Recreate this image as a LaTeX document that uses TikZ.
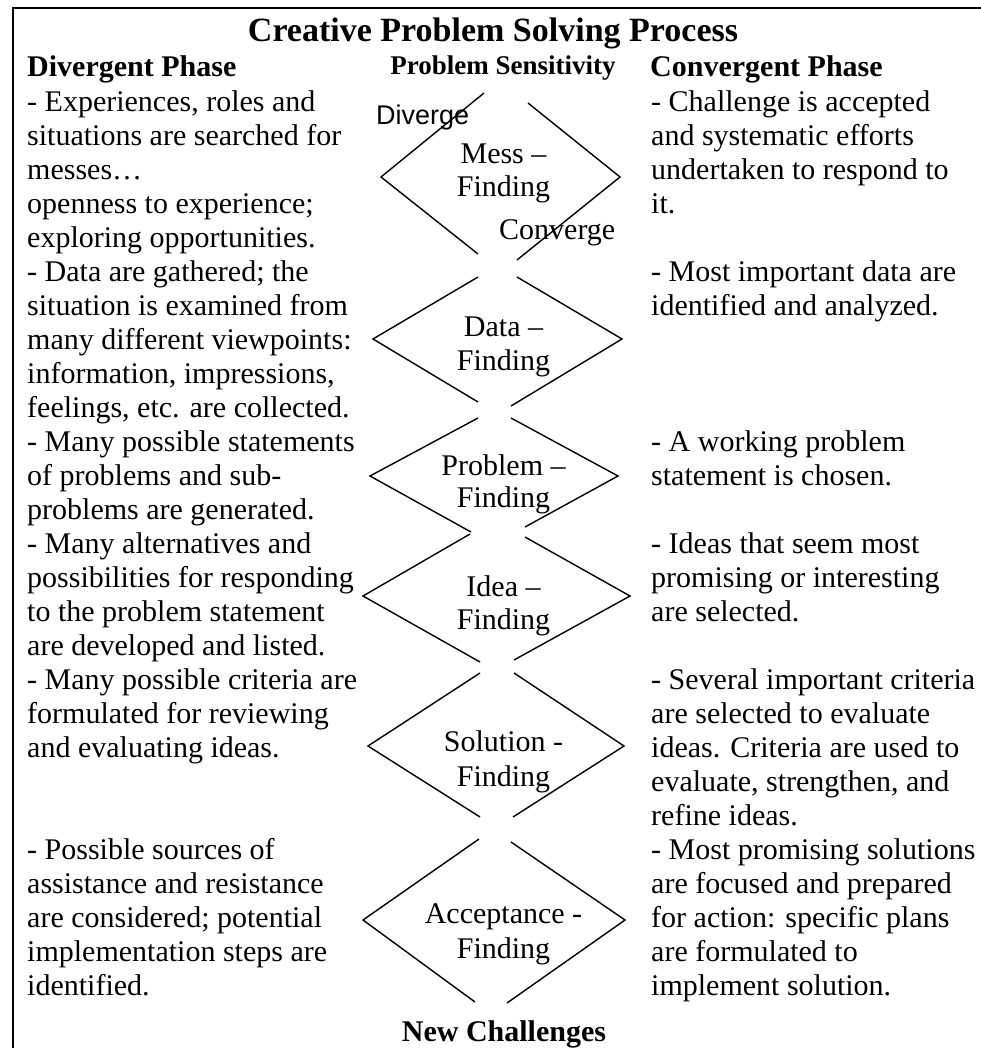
\documentclass[tikz,border=0pt]{standalone}
\usepackage{fontspec}
\setmainfont{Liberation Serif}
\newfontfamily\arialfont{Liberation Sans}
\tikzset{
  body/.style={font=\fontsize{30}{34}\selectfont, inner sep=0pt, anchor=base west},
  lbl/.style={font=\fontsize{30}{34}\selectfont, inner sep=0pt, anchor=base},
  head/.style={font=\fontsize{30}{34}\selectfont\bfseries, inner sep=0pt, anchor=base west},
  chev/.style={line width=1.4pt, line join=miter, line cap=butt},
  frameline/.style={line width=2pt}
}
\begin{document}
\begin{tikzpicture}[x=1pt, y=-1pt]
\useasboundingbox (0,0) rectangle (981,1048);
% frame
\draw[frameline] (12.5,1048) -- (12.5,8) -- (981,8);
% title and headings
\node[font=\fontsize{34}{40}\selectfont\bfseries, inner sep=0pt, anchor=base] (title) at (493,42) {Creative Problem Solving Process};
\node[head] (divh) at (27,76.5) {Divergent Phase};
\node[head] (convh) at (650,76.5) {Convergent Phase};
\node[font=\fontsize{27}{30}\selectfont\bfseries, inner sep=0pt, anchor=base] (sens) at (503,75) {Problem Sensitivity};
% left column
\foreach \k/\t in {1/{- Experiences, roles and}, 2/{situations are searched for}, 3/{messes…},
  4/{openness to experience;}, 5/{exploring opportunities.}, 6/{- Data are gathered; the},
  7/{situation is examined from}, 8/{many different viewpoints:}, 9/{information, impressions,},
  10/{feelings, etc. are collected.}, 11/{- Many possible statements}, 12/{of problems and sub-},
  13/{problems are generated.}, 14/{- Many alternatives and}, 15/{possibilities for responding},
  16/{to the problem statement}, 17/{are developed and listed.}, 18/{- Many possible criteria are},
  19/{formulated for reviewing}, 20/{and evaluating ideas.}, 23/{- Possible sources of},
  24/{assistance and resistance}, 25/{are considered; potential}, 26/{implementation steps are},
  27/{identified.}}
  \node[body] (L\k) at (27,{111.5+(\k-1)*34}) {\t};
% right column
\foreach \k/\t in {1/{- Challenge is accepted}, 2/{and systematic efforts}, 3/{undertaken to respond to},
  4/{it.}, 6/{- Most important data are}, 7/{identified and analyzed.},
  11/{- A working problem}, 12/{statement is chosen.}, 14/{- Ideas that seem most},
  15/{promising or interesting}, 16/{are selected.}, 18/{- Several important criteria},
  19/{are selected to evaluate}, 20/{ideas. Criteria are used to}, 21/{evaluate, strengthen, and},
  22/{refine ideas.}, 23/{- Most promising solutions}, 24/{are focused and prepared},
  25/{for action: specific plans}, 26/{are formulated to}, 27/{implement solution.}}
  \node[body] (R\k) at (651,{111.5+(\k-1)*34}) {\t};
% diamonds (open chevrons)
\draw[chev] (484,93) -- (381,177) -- (478,254);
\draw[chev] (528,103) -- (620,177) -- (517,260);
\draw[chev] (478,277) -- (373,339) -- (478,402);
\draw[chev] (517,277) -- (622,339) -- (511,406);
\draw[chev] (478,418) -- (370,476) -- (471,532);
\draw[chev] (511,418) -- (618,476) -- (525,527);
\draw[chev] (470,534) -- (363,596) -- (480,662);
\draw[chev] (525,537) -- (630,596) -- (514,660);
\draw[chev] (480,673) -- (368,746) -- (480,817);
\draw[chev] (514,673) -- (624,746) -- (513,817);
\draw[chev] (479,839) -- (363,920) -- (475,1002);
\draw[chev] (511,842) -- (625,920) -- (507,1003);
% diamond labels
\foreach \n/\a/\ya/\yb in {mess/{Mess –}/164/197, data/{Data –}/336/370, prob/{Problem –}/475/507,
  idea/{Idea –}/596/629, sol/{Solution -}/751/786, acc/{Acceptance -}/923/958}
{
  \node[lbl] (\n a) at (503.5,\ya) {\a};
  \node[lbl] (\n b) at (503.5,\yb) {Finding};
}
% diverge / converge
\node[font=\arialfont\fontsize{27}{30}\selectfont, inner sep=0pt, anchor=base west] (div) at (376,125) {Diverge};
\node[body] (conv) at (499,240) {Converge};
% bottom
\node[font=\fontsize{30}{34}\selectfont\bfseries, inner sep=0pt, anchor=base] (newch) at (504,1041.7) {New Challenges};
\end{tikzpicture}
\end{document}
